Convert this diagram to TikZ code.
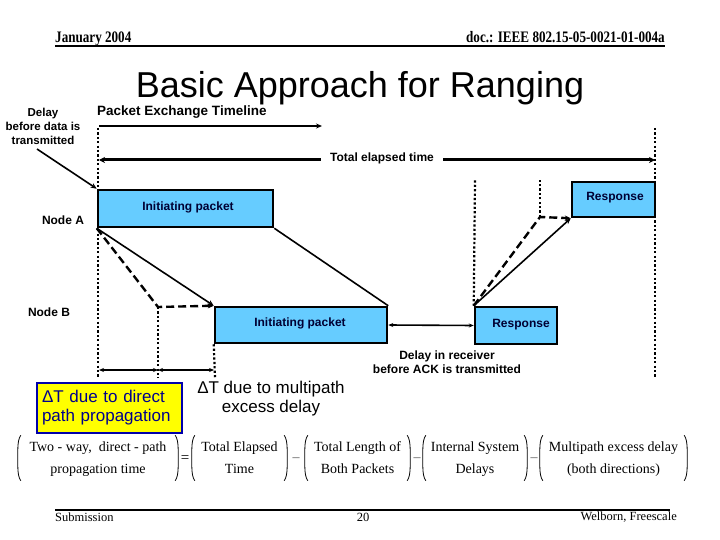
\documentclass[tikz,border=0pt]{standalone}
\usepackage{fontspec}
\setmainfont{Liberation Serif}
\setsansfont{Liberation Sans}
\newfontfamily\hdrfont[FakeStretch=0.82]{Liberation Serif}
\usetikzlibrary{arrows.meta}
\definecolor{pktblue}{RGB}{102,204,255}
\definecolor{pkttext}{RGB}{0,0,51}
\definecolor{ybox}{RGB}{255,255,0}
\definecolor{yborder}{RGB}{0,0,170}
\definecolor{ytext}{RGB}{0,0,140}
\begin{document}
\begin{tikzpicture}[x=1pt,y=-1pt,
  lbl/.style={font=\sffamily\bfseries\fontsize{12}{14}\selectfont, align=center, inner sep=0pt},
  pkt/.style={draw=black, line width=2.5pt, fill=pktblue, inner sep=0pt,
     font=\sffamily\bfseries\fontsize{12}{14}\selectfont, text=pkttext},
  conn/.style={line width=1.6pt},
  tip/.style={-{Stealth[length=6pt,width=5pt]}},
  dsh/.style={line width=2.4pt, dash pattern=on 8pt off 4pt},
  dotl/.style={line width=2.2pt, dash pattern=on 2.2pt off 2.2pt},
  big/.style={font=\sffamily\fontsize{17}{19}\selectfont, inner sep=0pt},
  eqt/.style={inner sep=0pt, font=\fontsize{14}{22}\selectfont, minimum height=45pt},
  eqs/.style={inner sep=0pt, font=\fontsize{14}{16}\selectfont, text=black!65},
  par/.style={line width=0.8pt}
]
\fill[white] (0,0) rectangle (720,540);
\useasboundingbox (0,0) rectangle (720,540);

% header
\node[anchor=base west, inner sep=0pt, font=\hdrfont\bfseries\fontsize{16}{18}\selectfont] (hdrL) at (55,43) {January 2004};
\node[anchor=base east, inner sep=0pt, font=\hdrfont\bfseries\fontsize{16}{18}\selectfont] (hdrR) at (665,43) {doc.: IEEE 802.15-05-0021-01-004a};
\coordinate (hl1) at (55,46);
\coordinate (hl2) at (665,46);
\draw[line width=2pt] (hl1) -- (hl2);

% title
\node[inner sep=0pt, font=\sffamily\fontsize{36}{40}\selectfont] (title) at (360,88) {Basic Approach for Ranging};

% labels
\node[lbl, font=\sffamily\bfseries\fontsize{11.5}{14}\selectfont] (delay) at (43,126) {Delay\\before data is\\transmitted};
\node[lbl, anchor=west, font=\sffamily\bfseries\fontsize{13.5}{15}\selectfont] (pet) at (97,112) {Packet Exchange Timeline};
\node[lbl] (nodeA) at (63,220) {Node A};
\node[lbl] (nodeB) at (49,312) {Node B};

% dotted verticals
\coordinate (L1) at (98,128);
\coordinate (L2) at (98,378);
\coordinate (R1) at (655,128);
\coordinate (R2) at (655,378);
\draw[dotl] (L1) -- (L2);
\draw[dotl] (R1) -- (R2);

% timeline arrow
\coordinate (t1) at (99,126);
\coordinate (t2) at (322,126);
\draw[line width=2pt, tip] (t1) -- (t2);

% total elapsed
\coordinate (e1) at (99,160);
\coordinate (e2) at (655,160);
\draw[line width=3pt, {Stealth[length=6pt,width=6pt]}-{Stealth[length=6pt,width=6pt]}] (e1) -- (e2);
\node[lbl, fill=white, inner xsep=9pt, inner ysep=3pt] (tet) at (382,158) {Total elapsed time};

% packets
\node[pkt, minimum width=175pt, minimum height=37pt] (pktA) at (185.5,208.5) {};
\node[lbl, text=pkttext] (pktAt) at (188,207) {Initiating packet};
\node[pkt, minimum width=172pt, minimum height=36pt] (pktB) at (301,325) {};
\node[lbl, text=pkttext] (pktBt) at (300,323) {Initiating packet};
\node[pkt, minimum width=82pt, minimum height=37pt] (respB) at (516,325.5) {};
\node[lbl, text=pkttext] (respBt) at (521,325) {Response};
\node[pkt, minimum width=83pt, minimum height=35pt] (respA) at (613.5,199.5) {};
\node[lbl, text=pkttext] (respAt) at (615,198) {Response};

% delay line
\coordinate (dl) at (37,149);
\draw[conn, tip] (dl) -- (pktA.north west);

% forward paths
\coordinate (mB) at (158,307);
\coordinate (mB2) at (158,378);
\coordinate (pB2) at (215,378);
\draw[dotl] (mB) -- (mB2);
\draw[dotl] (pktB.south west) -- (pB2);
\draw[conn, tip] (pktA.south west) -- (pktB.north west);
\draw[conn] (pktA.south east) -- (pktB.north east);
\draw[dsh, tip] (pktA.south west) -- (mB) -- (pktB.north west);

% bottom small arrows
\coordinate (b1) at (99,370);
\coordinate (b2) at (158,370);
\coordinate (b3) at (214,370);
\draw[line width=1.6pt, {Stealth[length=5pt,width=4pt]}-{Stealth[length=5pt,width=4pt]}] (b1) -- (b2);
\draw[line width=1.6pt, {Stealth[length=5pt,width=4pt]}-{Stealth[length=5pt,width=4pt]}] (b2) -- (b3);

% receiver delay
\draw[line width=1.6pt, {Stealth[length=5pt,width=4pt]}-{Stealth[length=5pt,width=4pt]}] (pktB.east) -- (respB.west);
\node[lbl] (rdel) at (447,362) {Delay in receiver\\before ACK is transmitted};

% return paths
\coordinate (mA) at (540,217);
\coordinate (mAt) at (540,180);
\coordinate (rBt) at (475,180);
\draw[dotl] (mA) -- (mAt);
\draw[dotl] (respB.north west) -- (rBt);
\draw[conn, tip] (respB.north west) -- (respA.south west);
\draw[dsh, tip] (respB.north west) -- (mA) -- (respA.south west);

% delta T boxes
\node[big, draw=yborder, line width=2.5pt, fill=ybox, text=ytext, align=left,
      minimum width=145pt, minimum height=50pt, text width=135pt] (dtbox) at (109.5,408)
      {ΔT due to direct\\path propagation};
\node[big, align=center] (dtmp) at (271,399) {ΔT due to multipath\\excess delay};

% equation
\node[eqt, minimum width=160pt] (eq1) at (98,458) {\begin{tabular}{@{}c@{}}Two - way,\ \ direct - path\\propagation time\end{tabular}};
\node[eqs, font=\fontsize{15}{16}\selectfont, text=black] (eqs1) at (185,459) {=};
\node[eqt, minimum width=95pt] (eq2) at (239.5,458) {\begin{tabular}{@{}c@{}}Total Elapsed\\Time\end{tabular}};
\node[eqs] (eqs2) at (296,460) {–};
\node[eqt, minimum width=105pt] (eq3) at (357.5,458) {\begin{tabular}{@{}c@{}}Total Length of\\Both Packets\end{tabular}};
\node[eqs] (eqs3) at (417,460) {–};
\node[eqt, minimum width=104pt] (eq4) at (475,458) {\begin{tabular}{@{}c@{}}Internal System\\Delays\end{tabular}};
\node[eqs] (eqs4) at (534,460) {–};
\node[eqt, minimum width=147pt] (eq5) at (613.5,458) {\begin{tabular}{@{}c@{}}Multipath excess delay\\(both directions)\end{tabular}};
\foreach \g in {eq1,eq2,eq3,eq4,eq5}{
  \draw[par] ([xshift=3pt]\g.north west) .. controls ([xshift=0.8pt,yshift=-3pt]\g.north west) and ([yshift=-8pt]\g.north west) .. ([yshift=-15pt]\g.north west)
     -- ([yshift=15pt]\g.south west) .. controls ([yshift=8pt]\g.south west) and ([xshift=0.8pt,yshift=3pt]\g.south west) .. ([xshift=3pt]\g.south west);
  \draw[par] ([xshift=-3pt]\g.north east) .. controls ([xshift=-0.8pt,yshift=-3pt]\g.north east) and ([yshift=-8pt]\g.north east) .. ([yshift=-15pt]\g.north east)
     -- ([yshift=15pt]\g.south east) .. controls ([yshift=8pt]\g.south east) and ([xshift=-0.8pt,yshift=3pt]\g.south east) .. ([xshift=-3pt]\g.south east);
}

% footer
\coordinate (f1) at (55,510);
\coordinate (f2) at (670,510);
\draw[line width=1.8pt] (f1) -- (f2);
\node[anchor=west, inner sep=0pt, font=\fontsize{12.5}{14}\selectfont] (sub) at (55,517) {Submission};
\node[inner sep=0pt, font=\fontsize{12.5}{14}\selectfont] (pg) at (363,517) {20};
\node[anchor=east, inner sep=0pt, font=\fontsize{12.5}{14}\selectfont] (auth) at (677,517) {Welborn, Freescale};
\end{tikzpicture}
\end{document}
